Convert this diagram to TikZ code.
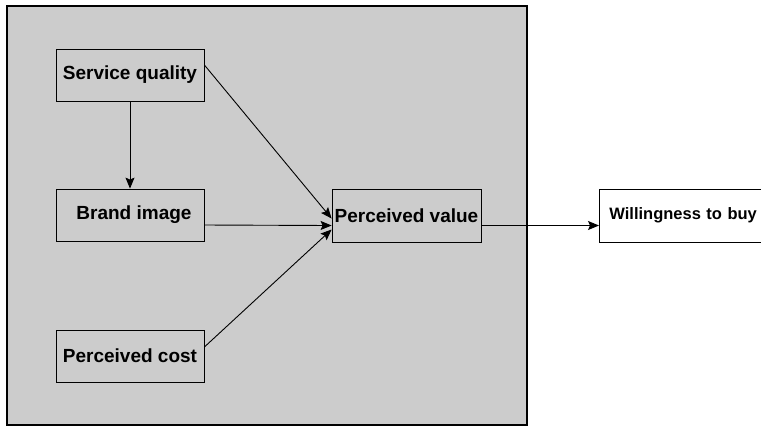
\documentclass[tikz,border=0pt]{standalone}
\usepackage{fontspec}
\setmainfont{Liberation Sans}
\usepackage{xcolor}
\usepackage{tikz}
\usetikzlibrary{arrows.meta}
\definecolor{framegray}{RGB}{204,204,204}

\begin{document}
\begin{tikzpicture}[x=1bp, y=-1bp,
        block/.style={draw, line width=0.8bp, minimum height=52bp,
                      minimum width=148bp, inner sep=0pt, align=center,
                      font=\fontsize{19bp}{22bp}\selectfont\bfseries},
        arrow/.style={-{Stealth[length=11bp, width=9bp, inset=2bp]}, line width=0.9bp},
    ]
        \useasboundingbox (0,0) rectangle (761,426);
        % Frame
        \filldraw[fill=framegray, draw=black, line width=2bp] (7,6) rectangle (527,425);

        % Nodes
        \node[block] (quality) at (130,75) {Service quality};
        \node[block] (brand) at (130,215) {\hspace{8bp}Brand image};
        \node[block] (cost) at (130,356) {Perceived cost};
        \node[block, minimum width=149bp, minimum height=53bp] (value) at (406.5,215.5)
              {Perceived value};
        \node[block, fill=white, anchor=west, minimum width=200bp, minimum height=53bp,
              text width=190bp, align=left,
              font=\fontsize{16.5bp}{20bp}\selectfont\bfseries] (buy) at (599,215.5)
              {\hspace{5bp}Willingness to buy};

        % Arrows
        \draw[arrow] (quality) -- (brand);
        \draw[arrow] ([yshift=10bp]quality.east) -- ([yshift=-3bp]value.west);
        \draw[arrow] ([yshift=-10bp]brand.east) -- ([yshift=-10bp]value.west);
        \draw[arrow] ([yshift=9bp]cost.east) -- ([yshift=-14bp]value.west);
        \draw[arrow] ([yshift=-10bp]value.east) -- ([yshift=-10bp]buy.west);
    \end{tikzpicture}
\end{document}
